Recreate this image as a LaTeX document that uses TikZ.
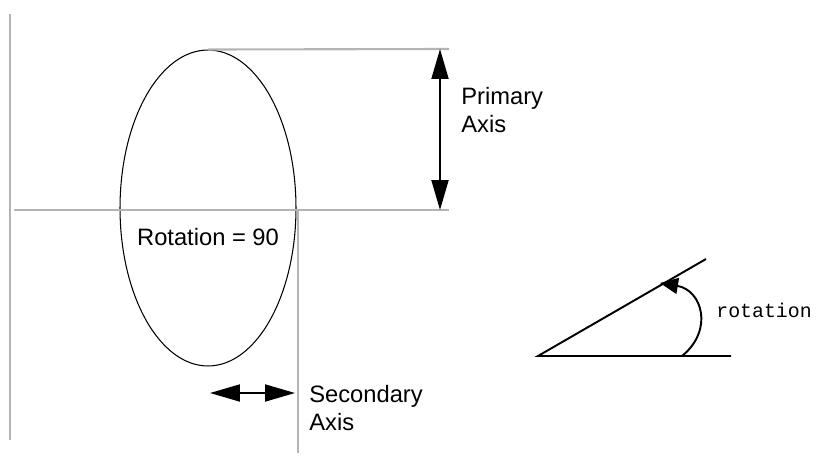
\documentclass[tikz,border=0pt]{standalone}
\usepackage{fontspec}
\setmainfont{Liberation Sans}
\newfontfamily\codefont{Liberation Mono}
\usetikzlibrary{arrows.meta,positioning,shapes.geometric}
\definecolor{guidegray}{HTML}{B4B4B4}

\begin{document}
\begin{tikzpicture}[x=0.02cm,y=-0.02cm,>={Triangle[length=6mm,width=3.4mm]},
  guide/.style={draw=guidegray,line width=1.2pt},
  dimarrow/.style={<->,line width=1.1pt},
  lbl/.style={font=\fontsize{13.5}{16.4}\selectfont,align=left,inner sep=0pt}]
  \useasboundingbox (0,0) rectangle (817,463);
  % the oval and its guides
  \node[draw,ellipse,line width=0.6pt,minimum width=3.52cm,minimum height=6.32cm,inner sep=0pt] (oval) at (208,208) {};
  \node[lbl] (rot) at (208,237) {Rotation = 90};
  \coordinate (lefttop) at (10,14);
  \coordinate (leftbot) at (10,440);
  \coordinate (topend) at (449,49);
  \coordinate (midstart) at (14,210);
  \coordinate (midend) at (449,210);
  \coordinate (vtop) at (298,210);
  \coordinate (vbot) at (298,453);
  \draw[guide] (lefttop) -- (leftbot);
  \draw[guide] (oval.north) -- (topend);
  \draw[guide] (midstart) -- (midend);
  \draw[guide] (vtop) -- (vbot);
  % primary axis
  \coordinate (pa) at (440,49);
  \coordinate (pb) at (440,210);
  \draw[dimarrow] (pa) -- (pb);
  \node[lbl,anchor=west] (primary) at (461,110) {Primary\\Axis};
  % secondary axis
  \coordinate (sa) at (210,393);
  \coordinate (sb) at (295,393);
  \draw[dimarrow] (sa) -- (sb);
  \node[lbl,anchor=west] (secondary) at (309,408) {Secondary\\Axis};
  % rotation sketch
  \coordinate (vtx) at (538,356);
  \coordinate (baseend) at (731,356);
  \coordinate (rayend) at (706,259);
  \coordinate (arcstart) at (682,356);
  \coordinate (arctip) at (660,283);
  \draw[line width=1.1pt] (baseend) -- (vtx) -- (rayend);
  \draw[->,>={Triangle[length=3.6mm,width=3.2mm]},line width=1.1pt]
    (arcstart) .. controls (714,330) and (702,290) .. (arctip);
  \node[font=\codefont\fontsize{11.3}{13}\selectfont,anchor=west,inner sep=0pt] (rotword) at (716,310) {rotation};
\end{tikzpicture}
\end{document}
